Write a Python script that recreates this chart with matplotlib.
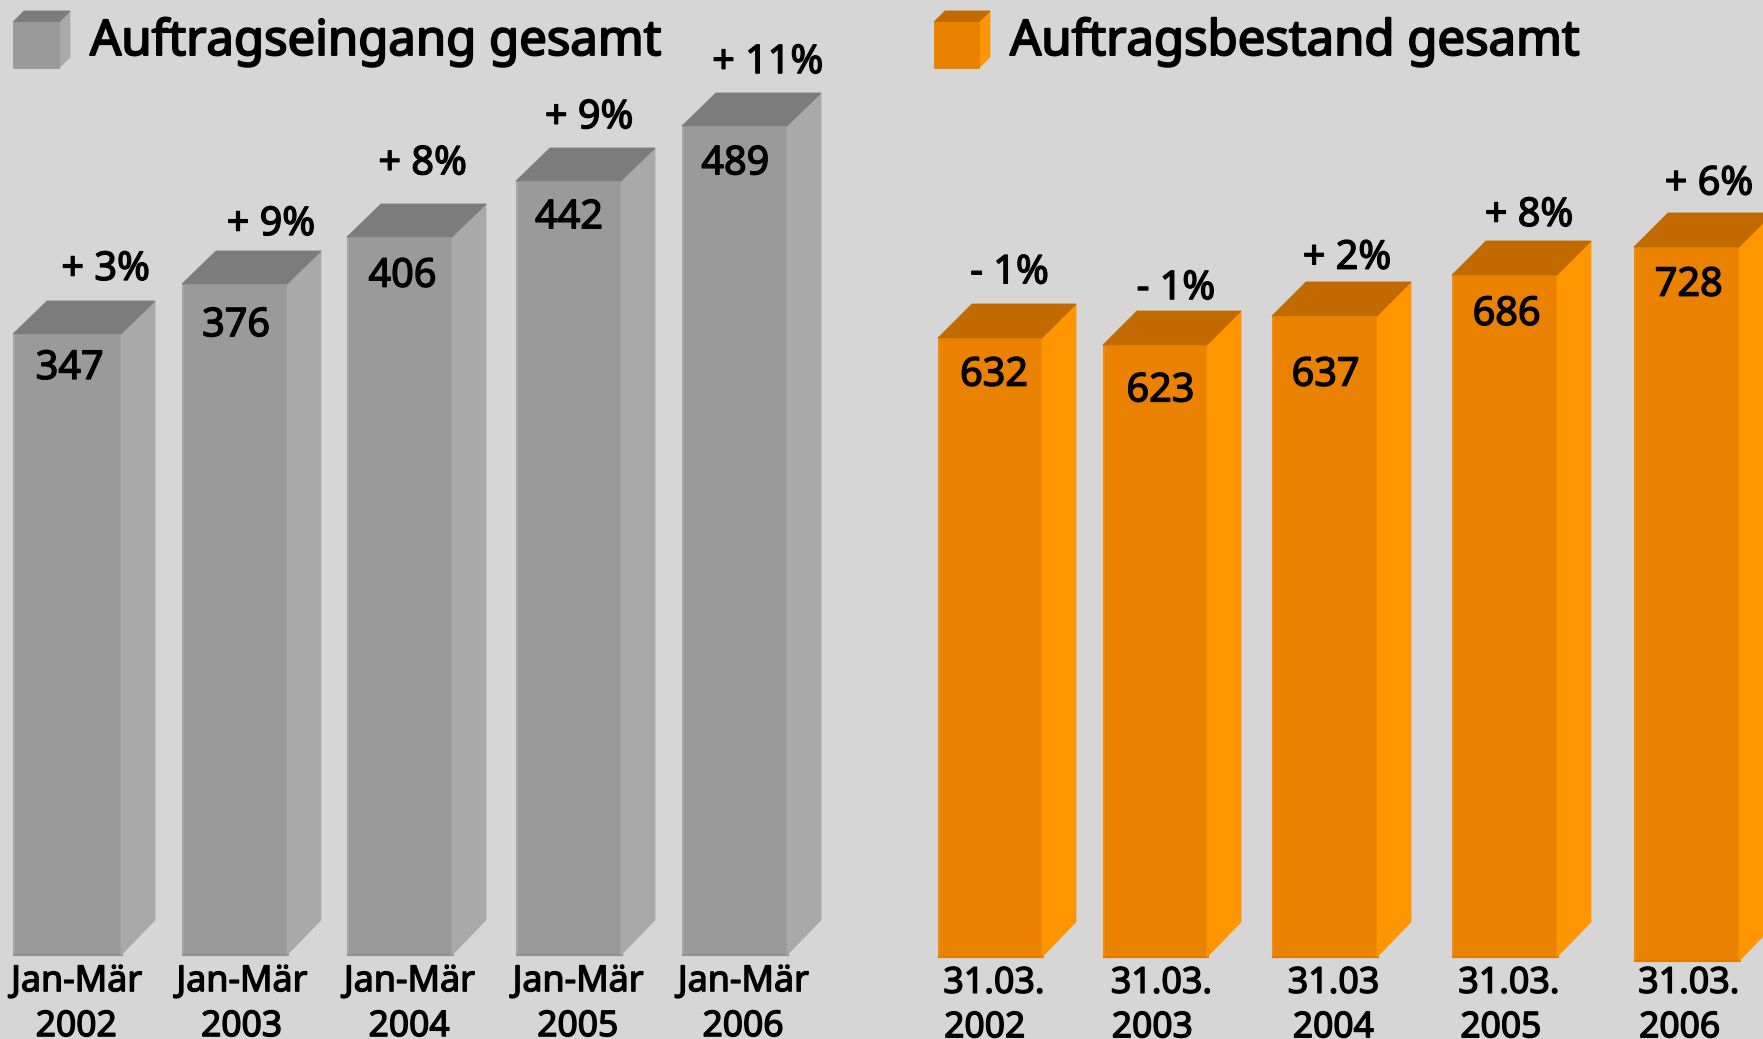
import matplotlib
matplotlib.use("Agg")
import matplotlib.pyplot as plt
import numpy as np
from matplotlib.patches import Polygon
from matplotlib.transforms import IdentityTransform
import matplotlib.patheffects as pe

plt.rcParams['font.family'] = ['Noto Sans', 'DejaVu Sans']

# ---- data
titles = ["Auftragseingang gesamt", "Auftragsbestand gesamt"]
order_values = [347, 376, 406, 442, 489]
order_changes = ["+ 3%", "+ 9%", "+ 8%", "+ 9%", "+ 11%"]
order_periods = ["Jan-Mär"] * 5
order_years = ["2002", "2003", "2004", "2005", "2006"]
backlog_values = [632, 623, 637, 686, 728]
backlog_changes = ["- 1%", "- 1%", "+ 2%", "+ 8%", "+ 6%"]
backlog_periods = ["31.03.", "31.03.", "31.03", "31.03.", "31.03."]
backlog_years = ["2002", "2003", "2004", "2005", "2006"]

# ---- layout (pixels)
W, H = 1763, 1039
S = W / 1568
BG = "#d6d6d6"
GREY = dict(front="#9a9a9a", side="#a9a9a9", top="#7c7c7c", edge="#a6a6a6", low="#929292")
ORANGE = dict(front="#ea8200", side="#ff9500", top="#c06a00", edge="#f08c10", low="#df7c00")

# the picture's height axis is not linear: scale knots (value, px above bottom)
grey_scale_v = [-83, 0, 347, 376, 406, 442, 489, 700]
grey_scale_px = [0, 84, 705, 755, 802, 858, 913, 1039]
orange_scale_v = [-81, 0, 623, 632, 637, 686, 728, 900]
orange_scale_px = [0, 82, 694, 701, 723, 764, 792, 1039]

grey_left = [13, 182, 347, 516, 682]
grey_right = [121, 287, 452, 621, 787]
orange_left = [938, 1103, 1272, 1452, 1634]
orange_right = [1042, 1207, 1377, 1557, 1739]
orange_base = [0, 0, 0, 0, -4]
grey_base = [0, 0, 0, 0, 0]
DX = 34

fig = plt.figure(figsize=(W / 100, H / 100), dpi=100, facecolor=BG)


def make_axes(sv, spx):
    ax = fig.add_axes([0, 0, 1, 1], label=str(sv[0]))
    ax.patch.set_alpha(0)
    ax.set_yscale('function', functions=(lambda v: np.interp(v, sv, spx),
                                         lambda p: np.interp(p, spx, sv)))
    ax.set_xlim(0, W)
    ax.set_ylim(sv[0], np.interp(H, spx, sv))
    ax.axis('off')
    return ax


def poly(pts, color):
    fig.add_artist(Polygon(pts, closed=True, facecolor=color, edgecolor=color, lw=0.6,
                           transform=IdentityTransform(), zorder=2))


def bars(ax, values, bases, lefts, rights, c, dy):
    for v, b, l, r in zip(values, bases, lefts, rights):
        _, ytop = ax.transData.transform((0, v))
        _, ybot = ax.transData.transform((0, b))
        poly([(r, ybot), (r + DX, ybot + 35), (r + DX, ytop + dy), (r, ytop)], c["side"])
        poly([(l, ytop), (r, ytop), (r + DX, ytop + dy), (l + DX, ytop + dy)], c["top"])
        ax.bar((l + r) / 2 + 0.75, v - b, width=r - l, bottom=b, color=c["front"],
               edgecolor=c["edge"], linewidth=1.5, zorder=3)
        ax.plot([l, r + 2], [b, b], color=c["low"], lw=1.5, zorder=4, solid_capstyle='butt')


def cube(x0, x1, y0, y1, d, c):
    poly([(x1, H - y1), (x1 + d, H - y1 + d), (x1 + d, H - y0 + d), (x1, H - y0)], c["side"])
    poly([(x0, H - y0), (x1, H - y0), (x1 + d, H - y0 + d), (x0 + d, H - y0 + d)], c["top"])
    poly([(x0, H - y0), (x1, H - y0), (x1, H - y1), (x0, H - y1)], c["front"])


def label(x, y, s, size, ha='center', stroke=1.0):
    fig.text(x / W, 1 - y / H, s, fontsize=size, ha=ha, va='baseline', color='black', zorder=6,
             path_effects=[pe.withStroke(linewidth=stroke, foreground='black')])


ax1 = make_axes(grey_scale_v, grey_scale_px)
ax2 = make_axes(orange_scale_v, orange_scale_px)
bars(ax1, order_values, grey_base, grey_left, grey_right, GREY, 33)
bars(ax2, backlog_values, orange_base, orange_left, orange_right, ORANGE, 34)

cube(13, 59, 22, 68, 11, GREY)
cube(934, 979, 22, 68, 11, ORANGE)
label(90, 55, titles[0], 35.3, 'left', 1.4)
label(1010, 55, titles[1], 35.3, 'left', 1.4)

val_xy = [(62, 325), (210, 287), (358, 243), (506, 191), (654, 143),
          (884, 331), (1032, 345), (1179, 331), (1340, 277), (1502, 251)]
chg_xy = [(94, 237), (241, 197), (376, 143), (524, 102), (683, 53),
          (898, 240), (1046, 254), (1198, 227), (1360, 189), (1520, 161)]
cat1_x = [68, 215, 364, 514, 661, 884, 1033, 1186, 1342, 1502]
cat2_x = [68, 215, 364, 514, 661, 876, 1025, 1186, 1335, 1494]
CAT1_Y = [881.5 * S] * 5 + [883 * S] * 5
CAT2_Y = [921.5 * S] * 5 + [922.5 * S] * 5

vals = order_values + backlog_values
chgs = order_changes + backlog_changes
per = order_periods + backlog_periods
yrs = order_years + backlog_years
for i in range(10):
    x, y = val_xy[i]
    label(x * S, y * S + 13.5, str(vals[i]), 28.5)
    x, y = chg_xy[i]
    label(x * S, y * S + 13.5, chgs[i], 28.5)
    label(cat1_x[i] * S, CAT1_Y[i], per[i], 25.8)
    label(cat2_x[i] * S, CAT2_Y[i], yrs[i], 25.5)

fig.savefig("out.png", dpi=100, facecolor=BG)
